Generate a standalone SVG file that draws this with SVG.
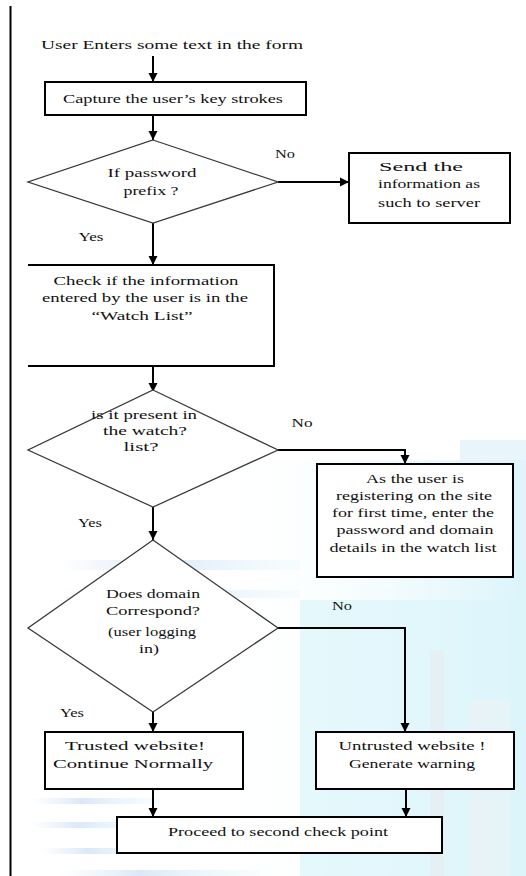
<svg xmlns="http://www.w3.org/2000/svg" width="526" height="876" viewBox="0 0 526 876">
<defs>
<style>
.t{font-family:"Liberation Serif","DejaVu Serif","Noto Serif",serif;font-size:13px;fill:#111;}
.box{fill:#fff;stroke:#000;stroke-width:2;}
.dia{fill:#fff;stroke:#3a3a3a;stroke-width:1.3;}
.ln{fill:none;stroke:#000;stroke-width:2;}
</style>
<marker id="ah" markerUnits="userSpaceOnUse" markerWidth="10" markerHeight="10" refX="9" refY="5" orient="auto">
<path d="M0,0.5 L9,5 L0,9.5 Z" fill="#000"/>
</marker>
<linearGradient id="wm" x1="0" y1="0" x2="1" y2="0">
<stop offset="0" stop-color="#ffffff" stop-opacity="0"/>
<stop offset="1" stop-color="#d6f3fa"/>
</linearGradient>
<linearGradient id="bar" x1="0" y1="0" x2="1" y2="0">
<stop offset="0" stop-color="#e4eefa" stop-opacity="0"/>
<stop offset="0.4" stop-color="#dbe8f7"/>
<stop offset="1" stop-color="#e8f8fc" stop-opacity="0.3"/>
</linearGradient>
</defs>
<rect width="526" height="876" fill="#fff"/>
<g id="watermark">
<rect x="200" y="460" width="326" height="416" fill="url(#wm)" opacity="0.9"/>
<rect x="300" y="600" width="226" height="276" fill="#dcf5fb" opacity="0.7"/>
<rect x="60" y="560" width="240" height="10" fill="url(#bar)"/>
<rect x="60" y="590" width="240" height="8" fill="url(#bar)"/>
<rect x="40" y="735" width="180" height="8" fill="url(#bar)"/>
<rect x="30" y="798" width="130" height="6" fill="url(#bar)"/>
<rect x="30" y="822" width="120" height="6" fill="url(#bar)"/>
<rect x="40" y="848" width="120" height="6" fill="url(#bar)"/>
<rect x="60" y="870" width="200" height="6" fill="url(#bar)"/>
<rect x="460" y="440" width="66" height="120" fill="#e2f4fb" opacity="0.8"/>
<rect x="430" y="650" width="14" height="226" fill="#e6eef3" opacity="0.9"/>
<rect x="470" y="700" width="40" height="176" fill="#e9f3f6" opacity="0.8"/>
</g>
<line x1="10.5" y1="6" x2="10.5" y2="876" stroke="#000" stroke-width="2"/>
<g id="connectors">
<line class="ln" x1="153" y1="56" x2="153" y2="82" marker-end="url(#ah)"/>
<line class="ln" x1="153" y1="115" x2="153" y2="140" marker-end="url(#ah)"/>
<line class="ln" x1="278" y1="182" x2="349" y2="182" marker-end="url(#ah)"/>
<line class="ln" x1="153" y1="223" x2="153" y2="265" marker-end="url(#ah)"/>
<line class="ln" x1="153" y1="366" x2="153" y2="392" marker-end="url(#ah)"/>
<polyline class="ln" points="278,450 405,450 405,464" marker-end="url(#ah)"/>
<line class="ln" x1="153" y1="507" x2="153" y2="540" marker-end="url(#ah)"/>
<polyline class="ln" points="278,628 405,628 405,732" marker-end="url(#ah)"/>
<line class="ln" x1="153" y1="712" x2="153" y2="732" marker-end="url(#ah)"/>
<line class="ln" x1="153" y1="789" x2="153" y2="817" marker-end="url(#ah)"/>
<line class="ln" x1="406" y1="789" x2="406" y2="817" marker-end="url(#ah)"/>
</g>
<g id="start">
<text class="t" x="172" y="49" text-anchor="middle" textLength="262" lengthAdjust="spacingAndGlyphs">User Enters some text in the form</text>
</g>
<g id="capture">
<rect class="box" x="45" y="82" width="261" height="33"/>
<text class="t" x="173" y="103" text-anchor="middle" textLength="220" lengthAdjust="spacingAndGlyphs">Capture the user’s key strokes</text>
</g>
<g id="decision-prefix">
<polygon class="dia" points="153,140 278,182 153,223 28,182"/>
<text class="t" x="152" y="177" text-anchor="middle" textLength="89" lengthAdjust="spacingAndGlyphs">If password</text>
<text class="t" x="151" y="195" text-anchor="middle" textLength="55" lengthAdjust="spacingAndGlyphs">prefix ?</text>
<text class="t" x="285" y="158" text-anchor="middle" textLength="20" lengthAdjust="spacingAndGlyphs">No</text>
<text class="t" x="91" y="241" text-anchor="middle" textLength="25" lengthAdjust="spacingAndGlyphs">Yes</text>
</g>
<g id="send">
<rect class="box" x="349" y="153" width="161" height="70"/>
<text class="t" x="421" y="171" text-anchor="middle" textLength="84" lengthAdjust="spacingAndGlyphs">Send the</text>
<text class="t" x="429" y="188" text-anchor="middle" textLength="102" lengthAdjust="spacingAndGlyphs">information as</text>
<text class="t" x="429" y="207" text-anchor="middle" textLength="102" lengthAdjust="spacingAndGlyphs">such to server</text>
</g>
<g id="check">
<path d="M28,265 H274 V366 H28" fill="#fff" stroke="#000" stroke-width="2"/>
<text class="t" x="146" y="285" text-anchor="middle" textLength="185" lengthAdjust="spacingAndGlyphs">Check if the information</text>
<text class="t" x="145" y="302" text-anchor="middle" textLength="206" lengthAdjust="spacingAndGlyphs">entered by the user is in the</text>
<text class="t" x="142" y="320" text-anchor="middle" textLength="101" lengthAdjust="spacingAndGlyphs">“Watch List”</text>
</g>
<g id="decision-watch">
<polygon class="dia" points="153,390 278,450 153,507 28,450"/>
<text class="t" x="144" y="419" text-anchor="middle" textLength="106" lengthAdjust="spacingAndGlyphs">is it present in</text>
<text class="t" x="145" y="435" text-anchor="middle" textLength="84" lengthAdjust="spacingAndGlyphs">the watch?</text>
<text class="t" x="141" y="451" text-anchor="middle" textLength="35" lengthAdjust="spacingAndGlyphs">list?</text>
<text class="t" x="302" y="427" text-anchor="middle" textLength="21" lengthAdjust="spacingAndGlyphs">No</text>
<text class="t" x="90" y="527" text-anchor="middle" textLength="24" lengthAdjust="spacingAndGlyphs">Yes</text>
</g>
<g id="register">
<rect class="box" x="317" y="464" width="196" height="113"/>
<text class="t" x="415" y="483" text-anchor="middle" textLength="98" lengthAdjust="spacingAndGlyphs">As the user is</text>
<text class="t" x="414" y="500" text-anchor="middle" textLength="156" lengthAdjust="spacingAndGlyphs">registering on the site</text>
<text class="t" x="413" y="517" text-anchor="middle" textLength="162" lengthAdjust="spacingAndGlyphs">for first time, enter the</text>
<text class="t" x="415" y="534" text-anchor="middle" textLength="157" lengthAdjust="spacingAndGlyphs">password and domain</text>
<text class="t" x="413" y="552" text-anchor="middle" textLength="167" lengthAdjust="spacingAndGlyphs">details in the watch list</text>
</g>
<g id="decision-domain">
<polygon class="dia" points="153,540 278,628 153,712 28,628"/>
<text class="t" x="153" y="598" text-anchor="middle" textLength="94" lengthAdjust="spacingAndGlyphs">Does domain</text>
<text class="t" x="153" y="615" text-anchor="middle" textLength="94" lengthAdjust="spacingAndGlyphs">Correspond?</text>
<text class="t" x="152" y="636" text-anchor="middle" textLength="88" lengthAdjust="spacingAndGlyphs">(user logging</text>
<text class="t" x="149" y="653" text-anchor="middle" textLength="20" lengthAdjust="spacingAndGlyphs">in)</text>
<text class="t" x="342" y="610" text-anchor="middle" textLength="20" lengthAdjust="spacingAndGlyphs">No</text>
<text class="t" x="72" y="717" text-anchor="middle" textLength="24" lengthAdjust="spacingAndGlyphs">Yes</text>
</g>
<g id="trusted">
<rect class="box" x="45" y="732" width="198" height="57"/>
<text class="t" x="135" y="750" text-anchor="middle" textLength="140" lengthAdjust="spacingAndGlyphs">Trusted website!</text>
<text class="t" x="133" y="768" text-anchor="middle" textLength="160" lengthAdjust="spacingAndGlyphs">Continue Normally</text>
</g>
<g id="untrusted">
<rect class="box" x="316" y="732" width="198" height="57"/>
<text class="t" x="412" y="750" text-anchor="middle" textLength="147" lengthAdjust="spacingAndGlyphs">Untrusted website !</text>
<text class="t" x="412" y="768" text-anchor="middle" textLength="126" lengthAdjust="spacingAndGlyphs">Generate warning</text>
</g>
<g id="proceed">
<rect class="box" x="117" y="817" width="325" height="36"/>
<text class="t" x="278" y="836" text-anchor="middle" textLength="220" lengthAdjust="spacingAndGlyphs">Proceed to second check point</text>
</g>
</svg>
